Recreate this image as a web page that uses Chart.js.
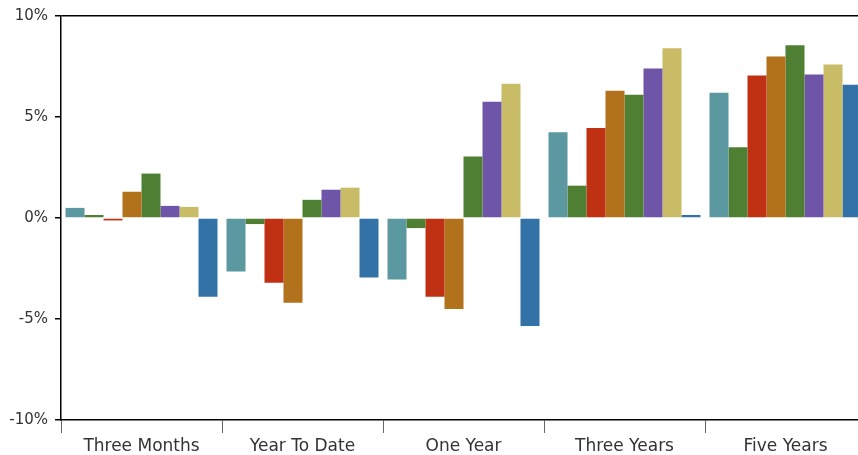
<!DOCTYPE html>
<html>
<head>
<meta charset="utf-8">
<script src="https://cdn.jsdelivr.net/npm/chart.js@4/dist/chart.umd.min.js"></script>
<style>
  html, body { margin: 0; padding: 0; overflow: hidden; background: #fff; }
  #wrap { position: absolute; left: 0; top: 0; width: 866px; height: 455px; }
</style>
</head>
<body>
<div id="wrap"><canvas id="c" width="866" height="455"></canvas></div>
<script>
// Return periods shown along the x axis
const periods = ['Three Months', 'Year To Date', 'One Year', 'Three Years', 'Five Years'];

// Returns (%) for each of the eight series, one value per period
const series1 = [0.5, -2.65, -3.05, 4.25, 6.2];
const series2 = [0.15, -0.3, -0.5, 1.6, 3.5];
const series3 = [-0.12, -3.2, -3.9, 4.45, 7.05];
const series4 = [1.3, -4.2, -4.5, 6.3, 8.0];
const series5 = [2.2, 0.9, 3.05, 6.1, 8.55];
const series6 = [0.6, 1.4, 5.75, 7.4, 7.1];
const series7 = [0.55, 1.5, 6.65, 8.4, 7.6];
const series8 = [-3.9, -2.95, -5.35, 0.15, 6.6];

// Y axis tick values
const yTicks = [-10, -5, 0, 5, 10];

const seriesList = [series1, series2, series3, series4, series5, series6, series7, series8];
const colors = ['#5B98A0', '#4E7F33', '#C03012', '#B2711B', '#4E7F33', '#6E55A8', '#C8BC67', '#3272A6'];

const fontFamily = '"DejaVu Sans", sans-serif';

new Chart(document.getElementById('c'), {
  type: 'bar',
  data: {
    labels: periods,
    datasets: seriesList.map((vals, i) => ({
      label: 'Series ' + (i + 1),
      data: vals,
      backgroundColor: colors[i],
      borderWidth: 0,
      barPercentage: 1,
      categoryPercentage: 0.944
    }))
  },
  options: {
    responsive: false,
    animation: false,
    layout: { padding: { top: 14, right: 0, bottom: 0, left: 0 } },
    plugins: { legend: { display: false }, tooltip: { enabled: false } },
    scales: {
      x: {
        offset: true,
        grid: {
          offset: true,
          drawOnChartArea: false,
          drawTicks: true,
          tickLength: 13,
          tickColor: '#666',
          tickWidth: 1
        },
        border: { display: true, color: '#000', width: 1.5 },
        ticks: {
          color: '#333',
          font: { family: fontFamily, size: 17 },
          padding: 3,
          maxRotation: 0
        },
        afterFit: (scale) => { scale.height = 35; }
      },
      y: {
        min: -10,
        max: 10,
        afterBuildTicks: (scale) => { scale.ticks = yTicks.map(v => ({ value: v })); },
        grid: {
          drawTicks: true,
          tickLength: 6,
          tickColor: '#000',
          color: (ctx) => (ctx.tick && ctx.tick.value === 10 ? '#000' : 'rgba(0,0,0,0)'),
          lineWidth: 1.5
        },
        border: { display: true, color: '#000', width: 1.5 },
        ticks: {
          color: '#333',
          font: { family: fontFamily, size: 15 },
          padding: 7,
          callback: (v) => v + '%'
        },
        afterFit: (scale) => { scale.width = 61; }
      }
    }
  }
});
</script>
</body>
</html>
